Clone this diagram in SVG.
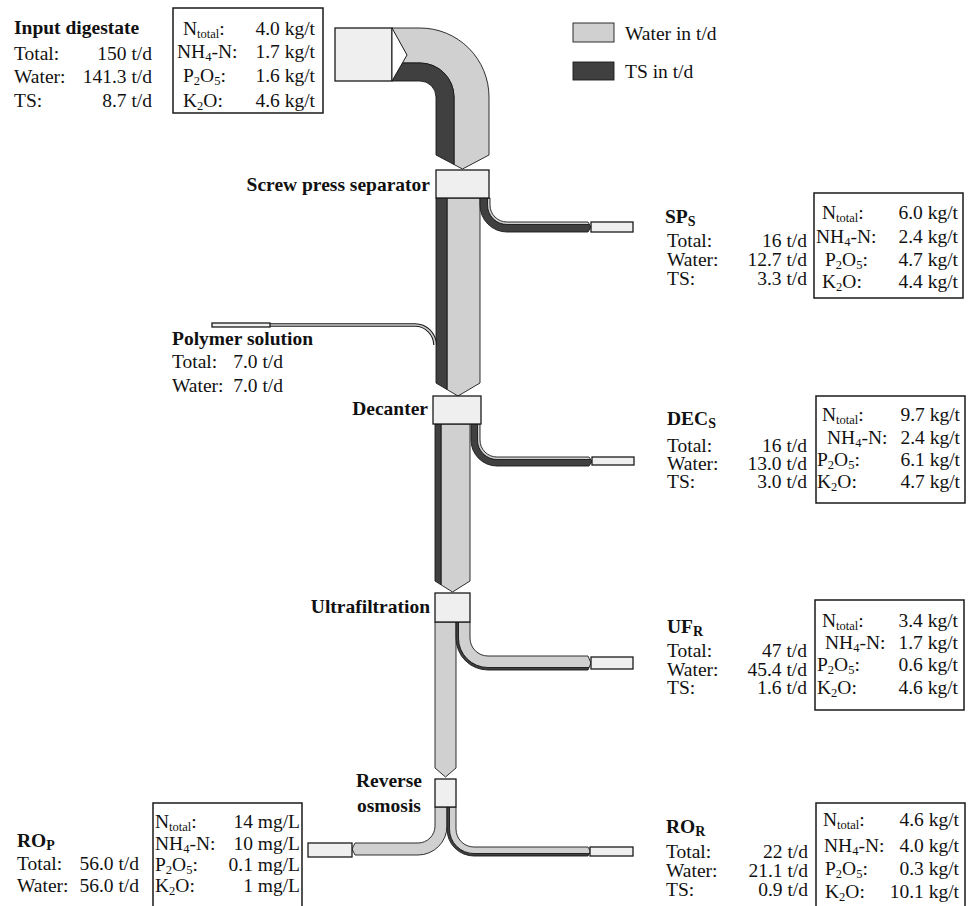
<svg xmlns="http://www.w3.org/2000/svg" width="974" height="906" viewBox="0 0 974 906">
<style>
.t{font-family:"Liberation Serif","Times New Roman",serif;font-size:19.5px;fill:#111}
.b{font-weight:bold}
.e{text-anchor:end}
.lt{fill:#d0d0d0;stroke:#1a1a1a;stroke-width:0.9}
.dk{fill:#404040;stroke:#1a1a1a;stroke-width:0.9}
.bx{fill:#efefef;stroke:#1a1a1a;stroke-width:1.3}
.tb{fill:none;stroke:#1a1a1a;stroke-width:1.5}
.s{font-size:12.5px}
</style>
<rect width="974" height="906" fill="#fff"/>

<g id="legend">
<rect x="573" y="23" width="41" height="19" class="lt"/>
<text class="t" x="625" y="40">Water in t/d</text>
<rect x="573" y="62" width="41" height="18" class="dk"/>
<text class="t" x="625" y="78">TS in t/d</text>
</g>

<g id="connectors">
<path class="lt" d="M392,28 H420 A69,69 0 0 1 489,97 V155 L462.5,169 L454,164.5 V97 A34,34 0 0 0 420,63 H392 Z"/>
<path class="dk" d="M392,63 H420 A34,34 0 0 1 454,97 V164.5 L436,155 V97 A16,16 0 0 0 420,81 H392 Z"/>
<path class="lt" d="M447,198 H480 V383 L458,396 L447,389.5 Z"/>
<path class="dk" d="M436,198 H447 V389.5 L436,383 Z"/>
<path class="dk" d="M480,198 V205 A27,27 0 0 0 507,232 H588 L591,227 L589.5,224.5 H507 A19.5,19.5 0 0 1 487.5,205 V198 Z"/>
<path class="lt" d="M487.5,198 V205 A19.5,19.5 0 0 0 507,224.5 H589.5 L588,222 H507 A17,17 0 0 1 490,205 V198 Z"/>
<path d="M270,325 H415 A20,20 0 0 1 435,345" fill="none" stroke="#1a1a1a" stroke-width="3.6"/>
<path d="M270,325 H415 A20,20 0 0 1 435,345" fill="none" stroke="#d0d0d0" stroke-width="1.6"/>
<path class="lt" d="M441,424 H470 V581 L452.5,592 L441,584.8 Z"/>
<path class="dk" d="M435,424 H441 V584.8 L435,581 Z"/>
<path class="dk" d="M471,424 V440 A26,26 0 0 0 497,466 H589 L592,461.5 L590.7,459.5 H497 A19.5,19.5 0 0 1 477.5,440 V424 Z"/>
<path class="lt" d="M477.5,424 V440 A19.5,19.5 0 0 0 497,459.5 H590.7 L589,457 H497 A17,17 0 0 1 480,440 V424 Z"/>
<path class="lt" d="M435,622 H456 V768 L445.5,777 L435,768 Z"/>
<path class="dk" d="M456,622 V638 A32,32 0 0 0 488,670 H588 L589.1,667.5 H488 A29.5,29.5 0 0 1 458.5,638 V622 Z"/>
<path class="lt" d="M458.5,622 V638 A29.5,29.5 0 0 0 488,667.5 H589.1 L591,663 L588,656 H488 A18,18 0 0 1 470,638 V622 Z"/>
<path class="lt" d="M435,807 V826 A17,17 0 0 1 418,843 H355 L352,849 L355,855 H418 A29,29 0 0 0 447,826 V807 Z"/>
<path class="dk" d="M447,807 V829 A27,27 0 0 0 474,856 H588 L589.4,853.5 H474 A24.5,24.5 0 0 1 449.5,829 V807 Z"/>
<path class="lt" d="M449.5,807 V829 A24.5,24.5 0 0 0 474,853.5 H589.4 L590.5,851.5 L588,847 H474 A18,18 0 0 1 456,829 V807 Z"/>
</g>

<g id="input">
<rect x="335" y="28" width="57" height="53" class="bx"/>
<path d="M392,28 L407,55 L392,81 Z" fill="#fff" stroke="#1a1a1a" stroke-width="1"/>
<text class="t b" x="14" y="34">Input digestate</text>
<text class="t" x="14" y="60">Total:</text><text class="t e" x="152" y="60">150 t/d</text>
<text class="t" x="14" y="83">Water:</text><text class="t e" x="152" y="83">141.3 t/d</text>
<text class="t" x="14" y="107">TS:</text><text class="t e" x="152" y="107">8.7 t/d</text>
<rect x="173" y="8" width="150" height="105" class="tb"/>
<text class="t" x="183" y="35">N<tspan dy="3" class="s">total</tspan><tspan dy="-3">:</tspan></text><text class="t e" x="315" y="35">4.0 kg/t</text>
<text class="t" x="177" y="58">NH<tspan dy="3" class="s">4</tspan><tspan dy="-3">-N:</tspan></text><text class="t e" x="315" y="58">1.7 kg/t</text>
<text class="t" x="183" y="82">P<tspan dy="3" class="s">2</tspan><tspan dy="-3">O</tspan><tspan dy="3" class="s">5</tspan><tspan dy="-3">:</tspan></text><text class="t e" x="315" y="82">1.6 kg/t</text>
<text class="t" x="183" y="107">K<tspan dy="3" class="s">2</tspan><tspan dy="-3">O:</tspan></text><text class="t e" x="315" y="107">4.6 kg/t</text>
</g>

<g id="screw-press">
<rect x="436" y="170" width="53" height="28" class="bx"/>
<text class="t b e" x="430" y="191">Screw press separator</text>
</g>

<g id="sp-s">
<rect x="591" y="222" width="42" height="10" class="bx"/>
<text class="t b" x="665" y="223">SP<tspan dy="3" font-size="14">S</tspan></text>
<text class="t" x="667" y="247">Total:</text><text class="t e" x="807" y="247">16 t/d</text>
<text class="t" x="667" y="266">Water:</text><text class="t e" x="807" y="266">12.7 t/d</text>
<text class="t" x="667" y="285">TS:</text><text class="t e" x="807" y="285">3.3 t/d</text>
<rect x="814" y="193" width="149" height="105" class="tb"/>
<text class="t" x="822" y="219">N<tspan dy="3" class="s">total</tspan><tspan dy="-3">:</tspan></text><text class="t e" x="958" y="219">6.0 kg/t</text>
<text class="t" x="816" y="243">NH<tspan dy="3" class="s">4</tspan><tspan dy="-3">-N:</tspan></text><text class="t e" x="958" y="243">2.4 kg/t</text>
<text class="t" x="825" y="266">P<tspan dy="3" class="s">2</tspan><tspan dy="-3">O</tspan><tspan dy="3" class="s">5</tspan><tspan dy="-3">:</tspan></text><text class="t e" x="958" y="266">4.7 kg/t</text>
<text class="t" x="822" y="288">K<tspan dy="3" class="s">2</tspan><tspan dy="-3">O:</tspan></text><text class="t e" x="958" y="288">4.4 kg/t</text>
</g>

<g id="polymer">
<rect x="212" y="323" width="58" height="4" class="bx" stroke-width="1"/>
<text class="t b" x="172" y="345">Polymer solution</text>
<text class="t" x="172" y="368">Total:</text><text class="t e" x="283" y="368">7.0 t/d</text>
<text class="t" x="172" y="392">Water:</text><text class="t e" x="283" y="392">7.0 t/d</text>
</g>

<g id="decanter">
<rect x="433" y="396" width="48" height="28" class="bx"/>
<text class="t b e" x="428" y="415">Decanter</text>
</g>

<g id="dec-s">
<rect x="592" y="457" width="42" height="8" class="bx"/>
<text class="t b" x="667" y="425">DEC<tspan dy="3" font-size="14">S</tspan></text>
<text class="t" x="667" y="452">Total:</text><text class="t e" x="807" y="452">16 t/d</text>
<text class="t" x="667" y="470">Water:</text><text class="t e" x="807" y="470">13.0 t/d</text>
<text class="t" x="667" y="488">TS:</text><text class="t e" x="807" y="488">3.0 t/d</text>
<rect x="816" y="396" width="149" height="107" class="tb"/>
<text class="t" x="822" y="421">N<tspan dy="3" class="s">total</tspan><tspan dy="-3">:</tspan></text><text class="t e" x="960" y="421">9.7 kg/t</text>
<text class="t" x="827" y="444">NH<tspan dy="3" class="s">4</tspan><tspan dy="-3">-N:</tspan></text><text class="t e" x="960" y="444">2.4 kg/t</text>
<text class="t" x="817" y="466">P<tspan dy="3" class="s">2</tspan><tspan dy="-3">O</tspan><tspan dy="3" class="s">5</tspan><tspan dy="-3">:</tspan></text><text class="t e" x="960" y="466">6.1 kg/t</text>
<text class="t" x="817" y="488">K<tspan dy="3" class="s">2</tspan><tspan dy="-3">O:</tspan></text><text class="t e" x="960" y="488">4.7 kg/t</text>
</g>

<g id="ultrafiltration">
<rect x="435" y="593" width="35" height="29" class="bx"/>
<text class="t b e" x="430" y="613">Ultrafiltration</text>
</g>

<g id="uf-r">
<rect x="591" y="657" width="42" height="12" class="bx"/>
<text class="t b" x="667" y="633">UF<tspan dy="3" font-size="14">R</tspan></text>
<text class="t" x="667" y="657">Total:</text><text class="t e" x="807" y="657">47 t/d</text>
<text class="t" x="667" y="676">Water:</text><text class="t e" x="807" y="676">45.4 t/d</text>
<text class="t" x="667" y="694">TS:</text><text class="t e" x="807" y="694">1.6 t/d</text>
<rect x="815" y="600" width="149" height="110" class="tb"/>
<text class="t" x="822" y="627">N<tspan dy="3" class="s">total</tspan><tspan dy="-3">:</tspan></text><text class="t e" x="958" y="627">3.4 kg/t</text>
<text class="t" x="825" y="649">NH<tspan dy="3" class="s">4</tspan><tspan dy="-3">-N:</tspan></text><text class="t e" x="958" y="649">1.7 kg/t</text>
<text class="t" x="817" y="671">P<tspan dy="3" class="s">2</tspan><tspan dy="-3">O</tspan><tspan dy="3" class="s">5</tspan><tspan dy="-3">:</tspan></text><text class="t e" x="958" y="671">0.6 kg/t</text>
<text class="t" x="817" y="694">K<tspan dy="3" class="s">2</tspan><tspan dy="-3">O:</tspan></text><text class="t e" x="958" y="694">4.6 kg/t</text>
</g>

<g id="reverse-osmosis">
<rect x="435" y="779" width="21" height="28" class="bx"/>
<text class="t b" x="389" y="787" text-anchor="middle">Reverse</text>
<text class="t b" x="389" y="812" text-anchor="middle">osmosis</text>
</g>

<g id="ro-p">
<rect x="308" y="843" width="44" height="14" class="bx"/>
<text class="t b" x="17" y="847">RO<tspan dy="3" font-size="14">P</tspan></text>
<text class="t" x="17" y="870">Total:</text><text class="t e" x="139" y="870">56.0 t/d</text>
<text class="t" x="17" y="892">Water:</text><text class="t e" x="139" y="892">56.0 t/d</text>
<rect x="153" y="803" width="149" height="110" class="tb"/>
<text class="t" x="155" y="828">N<tspan dy="3" class="s">total</tspan><tspan dy="-3">:</tspan></text><text class="t e" x="300" y="828">14 mg/L</text>
<text class="t" x="155" y="850">NH<tspan dy="3" class="s">4</tspan><tspan dy="-3">-N:</tspan></text><text class="t e" x="300" y="850">10 mg/L</text>
<text class="t" x="155" y="871">P<tspan dy="3" class="s">2</tspan><tspan dy="-3">O</tspan><tspan dy="3" class="s">5</tspan><tspan dy="-3">:</tspan></text><text class="t e" x="300" y="871">0.1 mg/L</text>
<text class="t" x="155" y="892">K<tspan dy="3" class="s">2</tspan><tspan dy="-3">O:</tspan></text><text class="t e" x="300" y="892">1 mg/L</text>
</g>

<g id="ro-r">
<rect x="590" y="847" width="43" height="9" class="bx"/>
<text class="t b" x="666" y="833">RO<tspan dy="3" font-size="14">R</tspan></text>
<text class="t" x="666" y="858">Total:</text><text class="t e" x="808" y="858">22 t/d</text>
<text class="t" x="666" y="877">Water:</text><text class="t e" x="808" y="877">21.1 t/d</text>
<text class="t" x="666" y="896">TS:</text><text class="t e" x="808" y="896">0.9 t/d</text>
<rect x="816" y="803" width="149" height="110" class="tb"/>
<text class="t" x="823" y="826">N<tspan dy="3" class="s">total</tspan><tspan dy="-3">:</tspan></text><text class="t e" x="959" y="826">4.6 kg/t</text>
<text class="t" x="824" y="852">NH<tspan dy="3" class="s">4</tspan><tspan dy="-3">-N:</tspan></text><text class="t e" x="959" y="852">4.0 kg/t</text>
<text class="t" x="825" y="875">P<tspan dy="3" class="s">2</tspan><tspan dy="-3">O</tspan><tspan dy="3" class="s">5</tspan><tspan dy="-3">:</tspan></text><text class="t e" x="959" y="875">0.3 kg/t</text>
<text class="t" x="825" y="898">K<tspan dy="3" class="s">2</tspan><tspan dy="-3">O:</tspan></text><text class="t e" x="959" y="898">10.1 kg/t</text>
</g>
</svg>
